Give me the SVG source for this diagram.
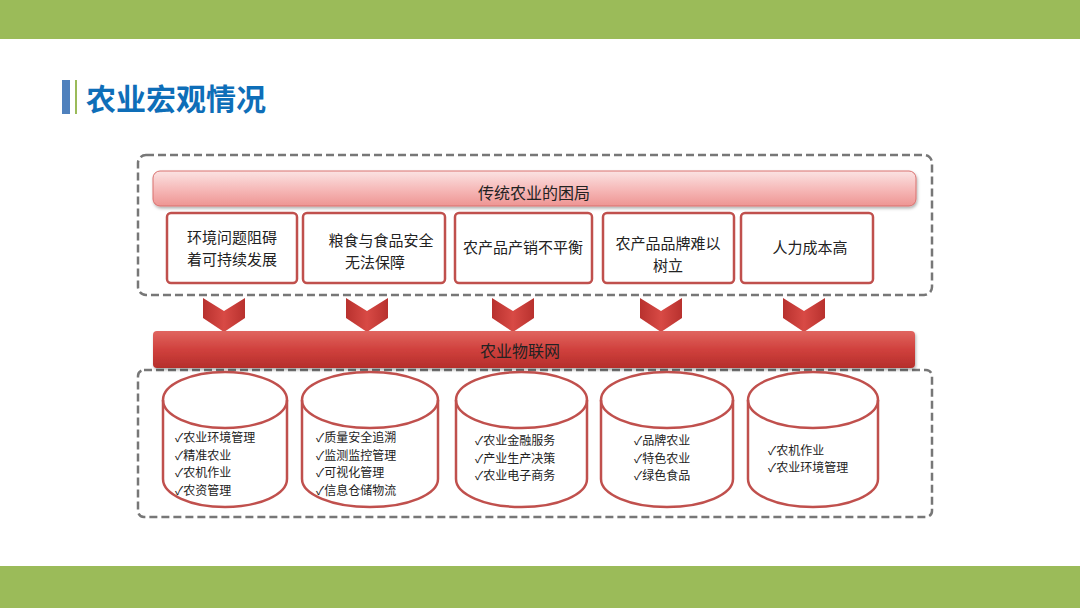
<svg xmlns="http://www.w3.org/2000/svg" width="1080" height="608" viewBox="0 0 1080 608">
<defs>
<linearGradient id="pink" x1="0" y1="0" x2="0" y2="1">
<stop offset="0" stop-color="#FBE3E3"/>
<stop offset="0.6" stop-color="#F5B3B2"/>
<stop offset="1" stop-color="#EE9593"/>
</linearGradient>
<linearGradient id="red" x1="0" y1="0" x2="0" y2="1">
<stop offset="0" stop-color="#E06560"/>
<stop offset="0.5" stop-color="#D0413D"/>
<stop offset="1" stop-color="#B52E2B"/>
</linearGradient>
<linearGradient id="chev" x1="0" y1="0" x2="1" y2="0">
<stop offset="0" stop-color="#B8312E"/>
<stop offset="0.5" stop-color="#D84A45"/>
<stop offset="1" stop-color="#B8312E"/>
</linearGradient>
<filter id="sh" x="-5%" y="-30%" width="110%" height="160%">
<feDropShadow dx="1" dy="2" stdDeviation="1.5" flood-color="#000" flood-opacity="0.3"/>
</filter>
</defs>
<style>
.t{font-family:"Noto Sans CJK SC","Noto Sans",sans-serif;fill:#222;}
.b{font-size:15px;text-anchor:middle;}
.c{font-size:12px;}
.box{fill:#fff;stroke:#C0504D;stroke-width:2.5;}
.dash{fill:none;stroke:#777;stroke-width:2.5;stroke-dasharray:8 4;}
.cyl{fill:#fff;stroke:#C0504D;stroke-width:2.5;}
.rim{fill:none;stroke:#C0504D;stroke-width:2.5;}
</style>
<rect x="0" y="0" width="1080" height="608" fill="#fff"/>
<rect x="0" y="0" width="1080" height="39" fill="#9BBB59"/>
<rect x="0" y="566" width="1080" height="42" fill="#9BBB59"/>
<g id="title">
<rect x="62" y="80" width="8" height="34" fill="#4F81BD"/>
<rect x="75" y="80" width="2" height="34" fill="#9BBB59"/>
<text x="86" y="110" font-family="'Noto Sans CJK SC',sans-serif" font-size="30" font-weight="bold" fill="#0E6EB8">农业宏观情况</text>
</g>
<g id="top-frame">
<rect class="dash" x="138" y="155" width="794" height="140" rx="8"/>
</g>
<g id="header">
<rect x="153" y="171" width="763" height="35" rx="7" fill="url(#pink)" stroke="#D9706E" stroke-width="1" filter="url(#sh)"/>
<text class="t" x="534" y="199" font-size="16" text-anchor="middle">传统农业的困局</text>
</g>
<g id="p1"><rect class="box" x="167" y="213" width="130" height="70" rx="4"/>
<text class="t b"><tspan x="232" y="243">环境问题阻碍</tspan><tspan x="232" y="265">着可持续发展</tspan></text></g>
<g id="p2"><rect class="box" x="303" y="213" width="142" height="70" rx="4"/>
<text class="t b"><tspan x="381" y="246">粮食与食品安全</tspan><tspan x="375" y="268">无法保障</tspan></text></g>
<g id="p3"><rect class="box" x="455" y="213" width="137" height="70" rx="4"/>
<text class="t b" x="523" y="253">农产品产销不平衡</text></g>
<g id="p4"><rect class="box" x="603" y="213" width="131" height="70" rx="4"/>
<text class="t b"><tspan x="668" y="249">农产品品牌难以</tspan><tspan x="668" y="271">树立</tspan></text></g>
<g id="p5"><rect class="box" x="741" y="213" width="132" height="70" rx="4"/>
<text class="t b" x="810" y="253">人力成本高</text></g>
<g id="connectors">
<polygon points="203,298 224,311 245,298 245,318 224,332 203,318" fill="url(#chev)"/>
<polygon points="346,298 367,311 388,298 388,318 367,332 346,318" fill="url(#chev)"/>
<polygon points="492,298 513,311 534,298 534,318 513,332 492,318" fill="url(#chev)"/>
<polygon points="640,298 661,311 682,298 682,318 661,332 640,318" fill="url(#chev)"/>
<polygon points="783,298 804,311 825,298 825,318 804,332 783,318" fill="url(#chev)"/>
</g>
<g id="bottom-frame">
<rect class="dash" x="138" y="370" width="794" height="147" rx="6"/>
</g>
<g id="iot">
<rect x="153" y="331" width="762" height="37" rx="4" fill="url(#red)" filter="url(#sh)"/>
<text class="t" x="520" y="357" font-size="16" text-anchor="middle">农业物联网</text>
</g>
<g id="c1">
<path class="cyl" d="M163,400 A62,28 0 0 1 287,400 L287,479 A62,28 0 0 1 163,479 Z"/>
<path class="rim" d="M163,400 A62,28 0 0 0 287,400"/>
<text class="t c"><tspan x="175" y="442">✓农业环境管理</tspan><tspan x="175" y="459.5">✓精准农业</tspan><tspan x="175" y="477">✓农机作业</tspan><tspan x="175" y="494.5">✓农资管理</tspan></text>
</g>
<g id="c2">
<path class="cyl" d="M302,400 A68,28 0 0 1 438,400 L438,479 A68,28 0 0 1 302,479 Z"/>
<path class="rim" d="M302,400 A68,28 0 0 0 438,400"/>
<text class="t c"><tspan x="316" y="442">✓质量安全追溯</tspan><tspan x="316" y="459.5">✓监测监控管理</tspan><tspan x="316" y="477">✓可视化管理</tspan><tspan x="316" y="494.5">✓信息仓储物流</tspan></text>
</g>
<g id="c3">
<path class="cyl" d="M456,400 A65.5,28 0 0 1 587,400 L587,479 A65.5,28 0 0 1 456,479 Z"/>
<path class="rim" d="M456,400 A65.5,28 0 0 0 587,400"/>
<text class="t c"><tspan x="475" y="445">✓农业金融服务</tspan><tspan x="475" y="462.5">✓产业生产决策</tspan><tspan x="475" y="480">✓农业电子商务</tspan></text>
</g>
<g id="c4">
<path class="cyl" d="M601,400 A66,28 0 0 1 733,400 L733,479 A66,28 0 0 1 601,479 Z"/>
<path class="rim" d="M601,400 A66,28 0 0 0 733,400"/>
<text class="t c"><tspan x="634" y="445">✓品牌农业</tspan><tspan x="634" y="462.5">✓特色农业</tspan><tspan x="634" y="480">✓绿色食品</tspan></text>
</g>
<g id="c5">
<path class="cyl" d="M748,400 A65,28 0 0 1 878,400 L878,479 A65,28 0 0 1 748,479 Z"/>
<path class="rim" d="M748,400 A65,28 0 0 0 878,400"/>
<text class="t c"><tspan x="768" y="454.5">✓农机作业</tspan><tspan x="768" y="472">✓农业环境管理</tspan></text>
</g>
</svg>
